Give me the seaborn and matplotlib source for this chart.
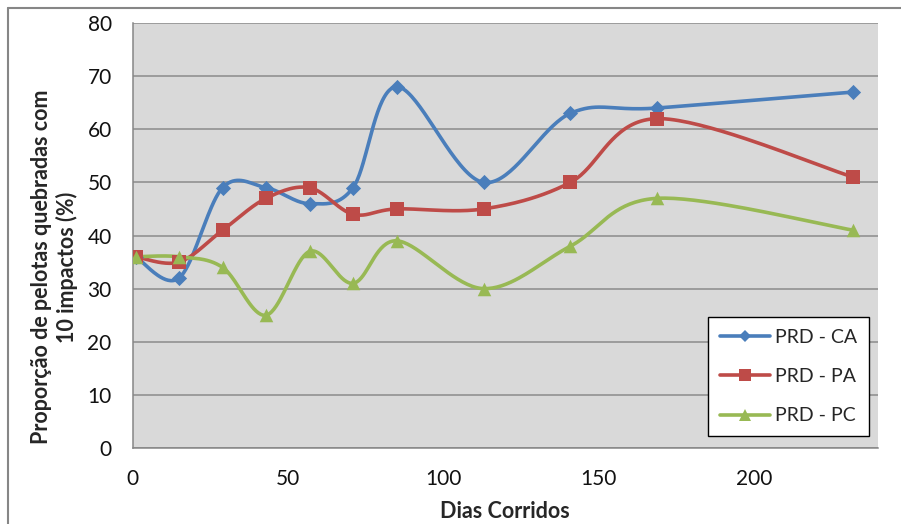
import numpy as np
import pandas as pd
import matplotlib
matplotlib.use("Agg")
import matplotlib.pyplot as plt
from matplotlib.lines import Line2D
import seaborn as sns

# Measurements
dias = [1, 15, 29, 43, 57, 71, 85, 113, 141, 169, 232]
prd_ca = [36, 32, 49, 49, 46, 49, 68, 50, 63, 64, 67]
prd_pa = [36, 35, 41, 47, 49, 44, 45, 45, 50, 62, 51]
prd_pc = [36, 36, 34, 25, 37, 31, 39, 30, 38, 47, 41]
series_names = ["PRD - CA", "PRD - PA", "PRD - PC"]
x_ticks = [0, 50, 100, 150, 200]
y_ticks = [0, 10, 20, 30, 40, 50, 60, 70, 80]

colors = ["#4A7EBB", "#BE4B48", "#98B954"]
markers = ["D", "s", "^"]
msizes = [60, 95, 95]


def smooth(x, y, n=40):
    """Cardinal (Catmull-Rom) Bezier smoothing through every point."""
    p = np.column_stack([x, y]).astype(float)
    out = [p[0]]
    for i in range(len(p) - 1):
        p0 = p[i - 1] if i > 0 else p[i]
        p1, p2 = p[i], p[i + 1]
        p3 = p[i + 2] if i + 2 < len(p) else p[i + 1]
        c1 = p1 + (p2 - p0) / 6.0
        c2 = p2 - (p3 - p1) / 6.0
        t = np.linspace(0, 1, n)[1:, None]
        seg = ((1 - t) ** 3) * p1 + 3 * ((1 - t) ** 2) * t * c1 + 3 * (1 - t) * t ** 2 * c2 + t ** 3 * p2
        out.extend(seg)
    out = np.array(out)
    return out[:, 0], out[:, 1]


sns.set_theme(style="white")
plt.rcParams["font.family"] = ["Lato", "DejaVu Sans"]

fig = plt.figure(figsize=(9.01, 5.24), dpi=100)
ax = fig.add_axes([132.5 / 901, 1 - 448 / 524, (878 - 132.5) / 901, (448 - 23) / 524])
ax.set_facecolor("#D9D9D9")

frames = []
points = []
for name, vals in zip(series_names, [prd_ca, prd_pa, prd_pc]):
    sx, sy = smooth(dias, vals)
    frames.append(pd.DataFrame({"dias": sx, "valor": sy, "serie": name}))
    points.append(pd.DataFrame({"dias": dias, "valor": vals, "serie": name}))
curves = pd.concat(frames, ignore_index=True)
pts = pd.concat(points, ignore_index=True)

palette = dict(zip(series_names, colors))
sns.lineplot(data=curves, x="dias", y="valor", hue="serie", palette=palette,
             sort=False, estimator=None, linewidth=2.6, legend=False, ax=ax, zorder=3)
for name, m, s in zip(series_names, markers, msizes):
    sns.scatterplot(data=pts[pts["serie"] == name], x="dias", y="valor",
                    color=palette[name], marker=m, s=s, linewidth=0,
                    legend=False, ax=ax, zorder=4)

ax.set_xlim(0, 240)
ax.set_ylim(0, 80)
ax.set_xticks(x_ticks)
ax.set_yticks(y_ticks)
ax.yaxis.grid(True, color="#8C8C8C", linewidth=1.1)
ax.xaxis.grid(False)
ax.set_axisbelow(True)
for side in ["top", "right"]:
    ax.spines[side].set_visible(False)
for side in ["left", "bottom"]:
    ax.spines[side].set_color("#868686")
    ax.spines[side].set_linewidth(1.1)
ax.tick_params(axis="both", which="major", direction="out", length=6, width=1,
               color="#868686", labelsize=15, labelcolor="#111111")
ax.tick_params(axis="x", pad=9)
ax.tick_params(axis="y", pad=9)

ax.set_xlabel("Dias Corridos", fontsize=15.5, fontweight="bold", labelpad=9)
ax.set_ylabel("Proporção de pelotas quebradas com\n10 impactos (%)",
              fontsize=15.5, fontweight="bold", linespacing=1.25)
ax.yaxis.set_label_coords(-0.073, 0.426)

handles = [Line2D([0], [0], color=c, marker=m, markersize=8.5 if m != "D" else 6.5,
                  linewidth=2.6, markeredgewidth=0)
           for c, m in zip(colors, markers)]
leg = ax.legend(handles, series_names, loc="lower right",
                bbox_to_anchor=(0.988, 0.0282), fontsize=14, frameon=True,
                fancybox=False, edgecolor="black", framealpha=1,
                handlelength=2.6, handletextpad=0.25, labelspacing=1.15,
                borderpad=0.6, borderaxespad=0)
leg.get_frame().set_linewidth(1.0)

# Outer chart frame
fig.add_artist(Line2D([8 / 901, 8 / 901], [0, 1 - 8 / 524], transform=fig.transFigure,
                      color="#868686", linewidth=1.5))
fig.add_artist(Line2D([8 / 901, 1], [1 - 8 / 524, 1 - 8 / 524], transform=fig.transFigure,
                      color="#868686", linewidth=1.5))

fig.savefig("out.png", dpi=100)
